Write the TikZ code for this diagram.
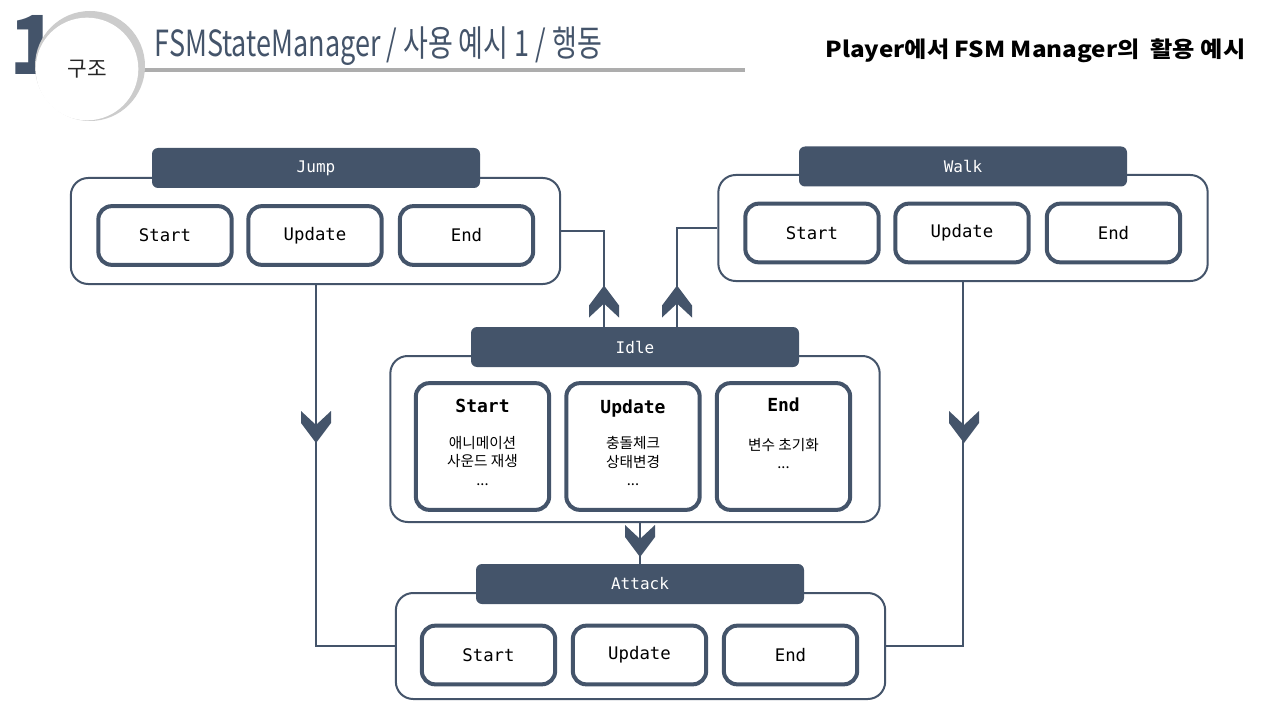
\documentclass[tikz,border=0pt]{standalone}
\usepackage{fontspec}
\setmainfont{Noto Sans CJK KR}
\newfontfamily\monofont{DejaVu Sans Mono}
\newfontfamily\titlefont[FakeStretch=0.75]{Noto Sans CJK KR}
\newfontfamily\capfont[FakeStretch=1.1]{Noto Sans CJK KR}
\definecolor{navy}{HTML}{44546A}
\definecolor{rulegray}{HTML}{ADADAD}

\begin{document}
\begin{tikzpicture}[x=0.75pt, y=-0.75pt,
    box/.style={draw=navy, line width=1.5pt, rounded corners=13pt, fill=white, minimum width=367pt, minimum height=79.5pt},
    head/.style={fill=navy, rounded corners=4.5pt, text=white, font=\monofont\fontsize{12}{14}\selectfont, minimum width=246pt, minimum height=30pt},
    part/.style={draw=navy, line width=3pt, rounded corners=10pt, fill=white, minimum width=100pt, minimum height=44pt, font=\monofont\fontsize{13}{15}\selectfont},
    idlepart/.style={part, minimum height=95pt, align=center, font=\fontsize{11}{14}\selectfont},
    link/.style={draw=navy, line width=1.5pt},
    chev/.pic={\fill[navy] (-15,-16) -- (0,-2) -- (15,-16) -- (15,-4) -- (0,16) -- (-15,-4) -- cycle;}]

    \fill[white] (0,0) rectangle (1280,720);
    \useasboundingbox (0,0) rectangle (1280,720);

    % title bar
    \node[font=\bfseries\fontsize{61}{61}\selectfont, text=navy] (num) at (34, 45) {1};
    \coordinate (ruleL) at (100, 70);
    \coordinate (ruleR) at (745, 70);
    \draw[rulegray, line width=3pt] (ruleL) -- (ruleR);
    \node[circle, fill=gray!40, minimum size=82.5pt] (ring) at (90, 66) {};
    \node[circle, fill=white, minimum size=77pt, font=\fontsize{16}{18}\selectfont, text=black!85] (badge) at (87, 69) {구조};
    \node[anchor=base west, font=\titlefont\fontsize{27}{30}\selectfont, text=navy] (title) at (150, 57) {FSMStateManager / 사용 예시 1 / 행동};
    \node[anchor=base east, font=\capfont\bfseries\fontsize{16.5}{18}\selectfont] (caption) at (1250, 58) {Player에서 FSM Manager의\ \ 활용 예시};

    % states
    \node[box]                       (jump)   at (315.5, 231) {};
    \node[box]                       (walk)   at (963, 228)   {};
    \node[box, minimum height=124.5pt] (idle) at (635, 439)   {};
    \node[box]                       (attack) at (640.5, 646) {};

    \node[head] (jumphead)   at (316, 168)   {Jump};
    \node[head] (walkhead)   at (963, 166.5) {Walk};
    \node[head] (idlehead)   at (635, 347)   {Idle};
    \node[head] (attackhead) at (640, 584)   {Attack};

    \node[part] (jumpstart)  at (165, 235.5)   {Start};
    \node[part] (jumpupdate) at (315, 235.5)   {Update};
    \node[part] (jumpend)    at (466.5, 235.5) {End};

    \node[part] (walkstart)  at (812, 233)    {Start};
    \node[part] (walkupdate) at (962, 233)    {Update};
    \node[part] (walkend)    at (1113.5, 233) {End};

    \node[idlepart] (idlestart)  at (482.5, 446.5) {{\monofont\bfseries\fontsize{13.5}{16}\selectfont Start}\\[12.5pt]애니메이션\\사운드 재생\\...\\[-8pt]\mbox{}};
    \node[idlepart] (idleupdate) at (633, 446.5)   {{\monofont\bfseries\fontsize{13.5}{16}\selectfont Update}\\[12.5pt]충돌체크\\상태변경\\...\\[-8pt]\mbox{}};
    \node[idlepart] (idleend)    at (783.5, 446.5) {{\monofont\bfseries\fontsize{13.5}{16}\selectfont End}\\[15pt]변수 초기화\\...\\[6pt]\mbox{}};

    \node[part] (attackstart)  at (488.5, 655) {Start};
    \node[part] (attackupdate) at (639.5, 655) {Update};
    \node[part] (attackend)    at (790.5, 655) {End};

    % transitions
    \draw[link] ([xshift=-23.25pt]idlehead.north) |- (jump.east);
    \draw[link] ([xshift=31.5pt]idlehead.north) |- (walk.west);
    \draw[link] (jump.south) |- (attack.west);
    \draw[link] (walk.south) |- (attack.east);
    \draw[link] (attackhead.north |- idle.south) -- (attackhead.north);

    \pic[yscale=-1] at (604, 301.5) {chev};
    \pic[yscale=-1] at (677, 301.5) {chev};
    \pic at (316, 427) {chev};
    \pic at (964, 427) {chev};
    \pic at (640, 541) {chev};
  \end{tikzpicture}
\end{document}
